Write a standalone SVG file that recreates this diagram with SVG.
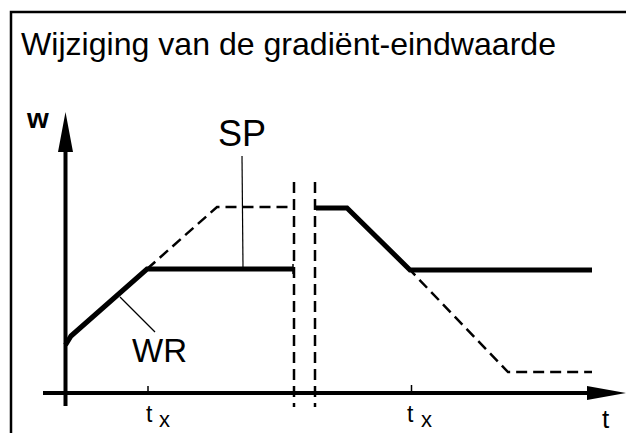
<svg xmlns="http://www.w3.org/2000/svg" width="626" height="433" viewBox="0 0 626 433">
  <style>
    .title { font-family: "Liberation Sans", Arial, sans-serif; font-size: 32px; fill: #000; }
    .lbl { font-family: "Liberation Sans", Arial, sans-serif; fill: #000; }
    .thick { fill: none; stroke: #000; stroke-width: 5; stroke-linejoin: miter; stroke-linecap: butt; }
    .axis { fill: none; stroke: #000; stroke-width: 4; }
    .dash { fill: none; stroke: #000; stroke-width: 2.5; stroke-dasharray: 11 6; }
    .vdash { fill: none; stroke: #000; stroke-width: 2.5; stroke-dasharray: 11 6; }
    .thin { fill: none; stroke: #000; stroke-width: 1.2; }
    .tick { fill: none; stroke: #000; stroke-width: 1.5; }
  </style>
  <rect x="0" y="0" width="626" height="433" fill="#fff"/>
  <g id="frame">
    <rect x="11" y="12" width="640" height="460" fill="none" stroke="#000" stroke-width="2.5"/>
  </g>
  <g id="title">
    <text class="title" x="21" y="55" textLength="535" lengthAdjust="spacingAndGlyphs">Wijziging van de gradiënt-eindwaarde</text>
  </g>
  <g id="axes">
    <line class="axis" x1="65.5" y1="150" x2="65.5" y2="406"/>
    <polygon points="65.5,112 58,152 73,152" fill="#000"/>
    <line class="axis" x1="43" y1="393" x2="590" y2="393"/>
    <polygon points="626,393 587,386 587,400" fill="#000"/>
    <line class="tick" x1="148" y1="386" x2="148" y2="393"/>
    <line class="tick" x1="411.5" y1="385" x2="411.5" y2="393"/>
  </g>
  <g id="breaks">
    <line class="vdash" x1="294" y1="182" x2="294" y2="407"/>
    <line class="vdash" x1="315" y1="182" x2="315" y2="407"/>
  </g>
  <g id="connectors">
    <polyline class="dash" points="147,269 217,207 294,207"/>
    <polyline class="dash" points="347,208 410,270 508,372 592,372"/>
    <polyline class="thick" points="65.5,345 71,336 147,269 293,269"/>
    <line class="tick" x1="293" y1="264" x2="293" y2="274"/>
    <polyline class="thick" points="316,208 347,208 410,270 592,270"/>
    <line class="thin" x1="242" y1="156" x2="243" y2="267"/>
    <line class="thin" x1="120" y1="297" x2="155" y2="332"/>
  </g>
  <g id="labels">
    <text class="lbl" x="27" y="128" font-size="28" font-weight="bold">w</text>
    <text class="lbl" x="218" y="146" font-size="36">SP</text>
    <text class="lbl" x="132" y="362" font-size="33">WR</text>
    <text class="lbl" x="146" y="422" font-size="23">t</text>
    <text class="lbl" x="159" y="427" font-size="22">x</text>
    <text class="lbl" x="407" y="422" font-size="23">t</text>
    <text class="lbl" x="421" y="427" font-size="22">x</text>
    <text class="lbl" x="602" y="428" font-size="26">t</text>
  </g>
</svg>
